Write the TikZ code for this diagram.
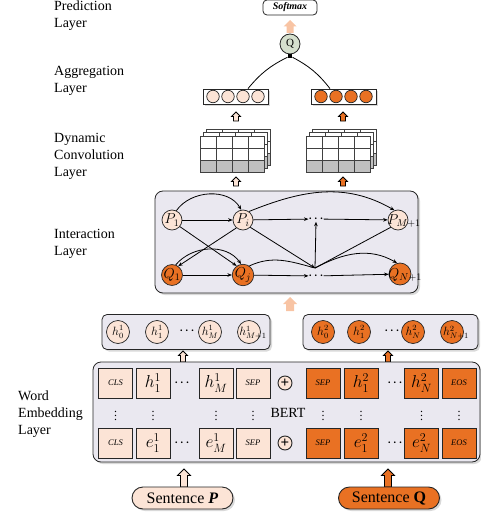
\documentclass[tikz,border=0pt]{standalone}
\usepackage{fontspec}
\setmainfont{Liberation Serif}
\usetikzlibrary{shadows,arrows.meta,calc}
\definecolor{peach}{RGB}{252,228,214}
\definecolor{orng}{RGB}{233,113,35}
\definecolor{salm}{RGB}{248,196,164}
\definecolor{lav}{RGB}{234,232,240}
\definecolor{qgreen}{RGB}{214,224,206}
\definecolor{cgrey}{RGB}{192,192,192}
% block up-arrow: style, x, ytop, ybottom, body half width, head half width (screen y)
\newcommand{\upblock}[6]{%
  \draw[#1] ({#2-#5},{-(#4)}) -- ({#2-#5},{-(#3+#6)}) -- ({#2-#6},{-(#3+#6)}) -- ({#2},{-(#3)})
     -- ({#2+#6},{-(#3+#6)}) -- ({#2+#5},{-(#3+#6)}) -- ({#2+#5},{-(#4)}) -- cycle;}
% convolution stack: front top-left corner (screen coords)
\newcommand{\convstack}[2]{%
  \foreach \k in {2,1,0}{
    \foreach \c in {0,1,2,3}{
      \foreach \r/\col in {0/white,1/white,2/cgrey}{
        \filldraw[fill=\col, draw=black!75, line width=0.7pt]
          ({#1+3*\k+16*\c},{-(#2-3.5*\k+12*\r)}) rectangle ++(16,-12);
      }}}}
\begin{document}
\begin{tikzpicture}[x=1pt,y=1pt,
  lbl/.style={anchor=north west, align=left, inner sep=0pt, font=\fontsize{14}{16.8}\selectfont},
  iarr/.style={line width=0.8pt, -{Stealth[length=4.5pt,width=3.6pt]}},
  pline/.style={line width=0.8pt},
  shad/.style={drop shadow={shadow xshift=2pt, shadow yshift=-2pt, opacity=0.3}},
  nP/.style={circle, draw=black!85, line width=0.7pt, fill=peach, minimum size=20pt, inner sep=0pt, font=\fontsize{14}{14}\selectfont},
  nQ/.style={nP, fill=orng},
  mtxt/.style={inner sep=0pt, font=\fontsize{14}{14}\selectfont},
  htxt/.style={inner sep=0pt, font=\fontsize{12}{12}\selectfont},
  hP/.style={circle, draw=black!85, line width=0.7pt, fill=peach, minimum size=23pt, inner sep=0pt, font=\fontsize{12}{12}\selectfont},
  hQ/.style={hP, fill=orng},
  dotn/.style={inner sep=0pt, font=\fontsize{11}{11}\selectfont\boldmath},
  aggbox/.style={draw=black!85, fill=white, line width=0.8pt, minimum width=65pt, minimum height=15pt, inner sep=0pt, shad},
  aP/.style={circle, draw=black!85, line width=0.7pt, fill=peach, minimum size=12.5pt, inner sep=0pt},
  aQ/.style={aP, fill=orng},
  rbox/.style={draw=black!85, fill=lav, line width=0.8pt, rounded corners=6pt, inner sep=0pt, shad},
  sqP/.style={draw=black!85, line width=0.7pt, fill=peach, minimum width=34pt, minimum height=30pt, inner sep=0pt},
  sqQ/.style={sqP, fill=orng},
  tag/.style={font=\fontsize{8.5}{9}\selectfont\itshape},
  big/.style={font=\fontsize{17}{17}\selectfont},
  vd/.style={inner sep=0pt, font=\fontsize{12}{12}\selectfont\boldmath},
  oplus/.style={circle, draw=black!85, line width=0.9pt, fill=peach, minimum size=14pt, inner sep=0pt, font=\fontsize{15}{15}\selectfont\bfseries},
  pill/.style={draw=black!85, line width=0.9pt, rounded corners=11pt, minimum width=101pt, minimum height=22pt, inner sep=0pt, font=\fontsize{16}{16}\selectfont, shad},
  smallP/.style={draw=black, line width=0.8pt, fill=peach},
  smallQ/.style={draw=black, line width=0.8pt, fill=orng},
  salmarr/.style={fill=salm, draw=none}
]
\useasboundingbox (0,0) rectangle (481,-516);

% ---- layer labels
\node[lbl] (lpred) at (54,-1) {Prediction\\Layer};
\node[lbl] (lagg) at (54,-66) {Aggregation\\Layer};
\node[lbl] (lconv) at (54,-133) {Dynamic\\Convolution\\Layer};
\node[lbl] (lint) at (54,-229) {Interaction\\Layer};
\node[lbl] (lemb) at (18,-391) {Word\\Embedding\\Layer};

% ---- prediction
\node[draw=black!85, fill=white, line width=0.8pt, rounded corners=4pt, minimum width=54pt, minimum height=15pt, inner sep=0pt,
      font=\fontsize{10}{10}\selectfont\bfseries\itshape] (soft) at (290,-7.5) {Softmax};
\upblock{salmarr}{290}{20}{33}{3.5}{6.5}
\node[circle, draw=black!85, line width=0.8pt, fill=qgreen, minimum size=20pt, inner sep=0pt,
      font=\fontsize{11}{11}\selectfont] (q) at (290,-44) {Q};
\node[fill=black, minimum size=4.5pt, inner sep=0pt] (qj) at (290,-56) {};

% ---- aggregation
\node[aggbox] (aggL) at (235.5,-96.5) {};
\node[aggbox] (aggR) at (343.5,-96.5) {};
\foreach \i/\dx in {1/-22.5,2/-7.5,3/7.5,4/22.5}{
  \node[aP] (aL\i) at ({235.5+\dx},-96.5) {};
  \node[aQ] (aR\i) at ({343.5+\dx},-96.5) {};
}
\draw[pline] (qj) to[bend right=12] ($(aggL.north)+(12.5,0)$);
\draw[pline] (qj) to[bend left=12] ($(aggR.north)+(-13.5,0)$);
\upblock{smallP}{236}{112}{121}{2.5}{4.5}
\upblock{smallQ}{343}{112}{121}{2.5}{4.5}

% ---- convolution
\convstack{200}{136}
\convstack{306}{136}
\upblock{smallP}{236}{177}{186}{2.5}{4.5}
\upblock{smallQ}{343}{177}{186}{2.5}{4.5}

% ---- interaction
\node[rbox, rounded corners=8pt, minimum width=263pt, minimum height=102pt] (inter) at (286.5,-242) {};
\node[nP] (P1) at (172,-220) {$P_1$};
\node[nP] (Pi) at (243,-220) {$P_i$};
\node[nP] (PM) at (398,-220) {};
\node[mtxt] (PMt) at (404,-221) {$P_{M+1}$};
\node[nQ] (Q1) at (172,-275) {$Q_1$};
\node[nQ] (Qj) at (243,-275) {$Q_j$};
\node[nQ, minimum size=22pt] (QN) at (400,-274) {};
\node[mtxt] (QNt) at (405,-275) {$Q_{N+1}$};
\node[dotn] (dU) at (316,-219) {$\cdots$};
\node[dotn] (dL) at (316,-276) {$\cdots$};
\coordinate (jn) at (315,-268);

\draw[iarr] (P1) -- (Pi);
\draw[iarr] (P1.65) to[out=55,in=120] (Pi.100);
\draw[iarr] (Pi) -- (dU);
\draw[iarr] (Pi.55) to[out=22,in=150] (PM.110);
\draw[iarr] (dU) -- (PM);
\draw[iarr] (P1.-40) -- (Qj.125);
\draw[iarr] (Pi.-130) -- (Q1.55);
\draw[iarr] (Q1) -- (Qj);
\draw[iarr] (Q1.70) to[out=50,in=125] (Qj.100);
\draw[iarr] (Qj) -- (dL);
\draw[pline] (Qj.55) to[out=25,in=165] (jn);
\draw[iarr] (Pi.-45) -- (jn);
\draw[iarr] (jn) -- (dU.south);
\draw[pline] (jn) -- (PM.-135);
\draw[iarr] (jn) to[out=28,in=150] (QN.105);
\draw[iarr] (dL) -- (QN);

\upblock{salmarr}{290}{297}{311}{4}{7}

% ---- hidden states
\node[rbox, rounded corners=5pt, minimum width=168pt, minimum height=35pt] (hL) at (186,-332) {};
\node[rbox, rounded corners=5pt, minimum width=175pt, minimum height=35pt] (hR) at (390.5,-332) {};
\node[hP] (h01) at (118,-332) {$h_0^1$};
\node[hP] (h11) at (157,-332) {$h_1^1$};
\node[dotn] (hdL) at (187,-331) {$\cdots$};
\node[hP] (hM1) at (210,-332) {$h_M^1$};
\node[hP] (hMp) at (249,-332) {};
\node[htxt] (hMpt) at (253,-333) {$h_{M+1}^1$};
\node[hQ] (h02) at (323,-332) {$h_0^2$};
\node[hQ] (h12) at (359,-332) {$h_1^2$};
\node[dotn] (hdR) at (392,-331) {$\cdots$};
\node[hQ] (hN2) at (413,-332) {$h_N^2$};
\node[hQ] (hNp) at (452,-332) {};
\node[htxt] (hNpt) at (456,-333) {$h_{N+1}^2$};
\upblock{smallP}{183}{351}{362}{2.5}{4.5}
\upblock{smallQ}{388}{351}{362}{2.5}{4.5}

% ---- BERT
\node[rbox, rounded corners=8pt, minimum width=387pt, minimum height=100pt] (bert) at (286.5,-412) {};
% top row
\node[sqP, tag] (c1) at (115.5,-383) {CLS};
\node[sqP, big] (t1) at (153,-383) {$h_1^1$};
\node[dotn] (td1) at (182,-383) {$\cdots$};
\node[sqP, big] (tM) at (216,-383) {$h_M^1$};
\node[sqP, tag] (s1) at (253,-383) {SEP};
\node[oplus] (o1) at (285,-383) {+};
\node[sqQ, tag] (s2) at (323,-383) {SEP};
\node[sqQ, big] (t12) at (361,-383) {$h_1^2$};
\node[dotn] (td2) at (395,-383) {$\cdots$};
\node[sqQ, big] (tN) at (421.5,-383) {$h_N^2$};
\node[sqQ, tag] (e1) at (459,-383) {EOS};
% bottom row
\node[sqP, tag] (c2) at (115.5,-443) {CLS};
\node[sqP, big] (b1) at (153,-443) {$e_1^1$};
\node[dotn] (bd1) at (182,-443) {$\cdots$};
\node[sqP, big] (bM) at (216,-443) {$e_M^1$};
\node[sqP, tag] (s3) at (253,-443) {SEP};
\node[oplus] (o2) at (285,-443) {+};
\node[sqQ, tag] (s4) at (323,-443) {SEP};
\node[sqQ, big] (b12) at (361,-443) {$e_1^2$};
\node[dotn] (bd2) at (395,-443) {$\cdots$};
\node[sqQ, big] (bN) at (421.5,-443) {$e_N^2$};
\node[sqQ, tag] (e2) at (459,-443) {EOS};
% vertical dots
\foreach \x [count=\i] in {115.5,153,216,253,323,361,421.5,459}{
  \node[vd] (vd\i) at (\x,-413) {$\vdots$};
}
\node[inner sep=0pt, font=\fontsize{14}{14}\selectfont] (bertt) at (288,-413) {BERT};

\upblock{smallP}{184}{469}{487}{3.5}{6.5}
\upblock{smallQ}{388}{469}{487}{3.5}{6.5}

\node[pill, fill=peach] (sP) at (182.5,-498) {Sentence \textbf{\textit{P}}};
\node[pill, fill=orng] (sQ) at (389,-498) {Sentence \textbf{Q}};
\end{tikzpicture}
\end{document}
